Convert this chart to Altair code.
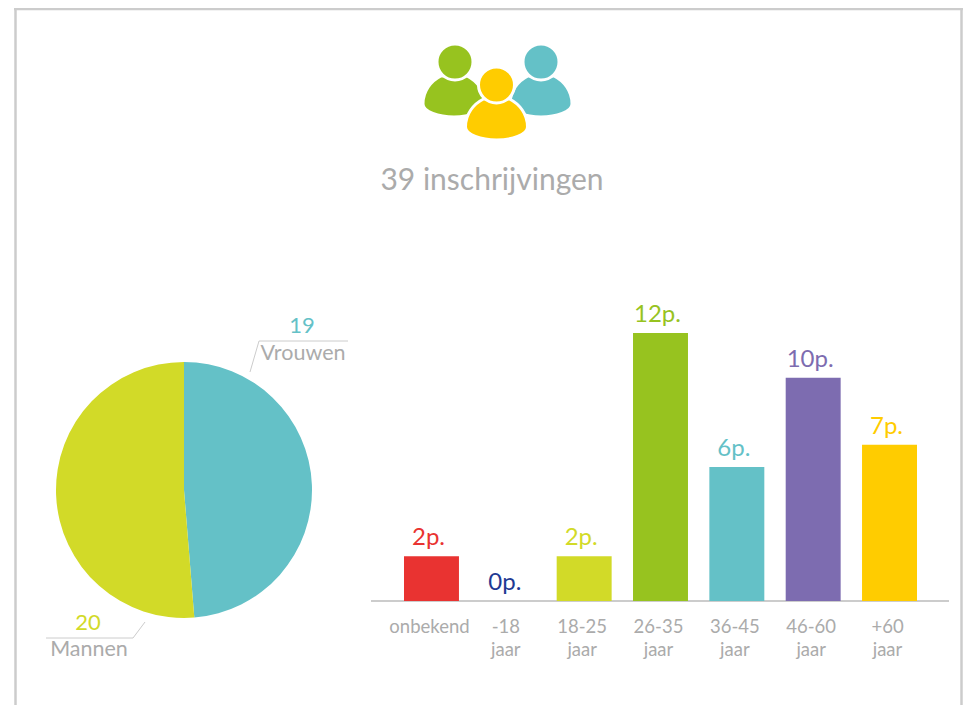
import altair as alt
import pandas as pd

OX, OY = 8, 8  # page margin

age_groups = ["onbekend", "-18", "18-25", "26-35", "36-45", "46-60", "+60"]
age_labels = ["onbekend", "-18\njaar", "18-25\njaar", "26-35\njaar", "36-45\njaar", "46-60\njaar", "+60\njaar"]
age_counts = [2, 0, 2, 12, 6, 10, 7]
age_colors = ["#E93331", "#1F3A93", "#D2DA28", "#97C31F", "#64C1C7", "#7D6CB0", "#FFCC00"]
gender_names = ["Vrouwen", "Mannen"]
gender_counts = [19, 20]
gender_colors = ["#64C1C7", "#D2DA28"]
title_text = "39 inschrijvingen"
GREY = "#ABABAB"
LINE = "#CCCCCC"
FONT = "Lato"

bars_df = pd.DataFrame({
    "age": age_groups, "count": age_counts, "color": age_colors, "tick": age_labels,
    "label": [f"{c}p." for c in age_counts],
})
pie_df = pd.DataFrame({"name": gender_names, "count": gender_counts, "color": gender_colors,
                       "order": [0, 1]})

x_scale = alt.Scale(domain=age_groups, range=[404 - OX, 917 - OX], paddingInner=0.28, paddingOuter=0)
y_scale = alt.Scale(domain=[0, 12], range=[601 - OY, 333 - OY])
X = alt.X("age:N", scale=x_scale, axis=None, sort=age_groups)
Y = alt.Y("count:Q", scale=y_scale, axis=None)
one = pd.DataFrame({"a": [0]})


def seg(x1, y1, x2, y2, color=LINE, w=1.0):
    return alt.Chart(one).mark_rule(color=color, strokeWidth=w).encode(
        x=alt.value(x1 - OX), x2=alt.value(x2 - OX), y=alt.value(y1 - OY), y2=alt.value(y2 - OY))


def txt(s, x, y, size, color=GREY, weight=400, align="center"):
    return alt.Chart(pd.DataFrame({"t": [s]})).mark_text(
        font=FONT, fontSize=size, color=color, fontWeight=weight, align=align, baseline="alphabetic"
    ).encode(text="t:N", x=alt.value(x - OX), y=alt.value(y - OY))


BODY = ("M-31,27 C-31,14 -23,4 -13,-1 L13,-1 C23,4 31,14 31,27 "
        "C31,35 15,40 0,40 C-15,40 -31,35 -31,27 Z")


def person(hx, hy, bx, by, color):
    body = alt.Chart(one).mark_point(shape=BODY, filled=True, size=4, fill=color, stroke="white",
                                     strokeWidth=3, opacity=1).encode(
        x=alt.value(bx - OX), y=alt.value(by - OY))
    head = alt.Chart(one).mark_point(shape="circle", filled=True, size=36 * 36, fill=color, stroke="white",
                                     strokeWidth=3, opacity=1).encode(
        x=alt.value(hx - OX), y=alt.value(hy - OY))
    return [body, head]


frame = [
    seg(14, 9, 963, 9, w=2.5),
    seg(15.5, 8, 15.5, 705, w=2.5),
    seg(961.5, 8, 961.5, 705, w=2.5),
]

icon = (person(455, 62, 454, 77, "#97C31F") + person(541, 62, 541, 77, "#64C1C7")
        + person(496.5, 85, 496.5, 100, "#FFCC00"))

pie = alt.Chart(pie_df).mark_arc(outerRadius=128, innerRadius=0).encode(
    theta=alt.Theta("count:Q", stack=True),
    order=alt.Order("order:Q"),
    color=alt.Color("color:N", scale=None, legend=None),
    x=alt.value(184 - OX), y=alt.value(490 - OY),
)

bars = alt.Chart(bars_df).mark_bar().encode(
    x=X, y=Y, color=alt.Color("color:N", scale=None, legend=None))
bar_labels = alt.Chart(bars_df).mark_text(
    font=FONT, fontSize=24, baseline="alphabetic", align="center", dx=-3, dy=-11).encode(
    x=X, y=Y, text="label:N", color=alt.Color("color:N", scale=None, legend=None))
ticks = alt.Chart(bars_df).mark_text(
    font=FONT, fontSize=18.5, baseline="alphabetic", align="center", lineBreak="\n", lineHeight=23,
    color=GREY, dx=-2, dy=32).encode(x=X, y=alt.datum(0, scale=y_scale), text="tick:N")

layers = frame + icon + [
    txt(title_text, 492, 190, 30),
    pie,
    seg(371, 601, 949, 601, w=2),
    bars, bar_labels, ticks,
    seg(46, 638, 133, 638), seg(133, 638, 145, 622),
    seg(348, 341, 259, 341), seg(259, 341, 250, 372),
    txt("20", 88, 630, 22, "#D2DA28"),
    txt("Mannen", 89, 656, 21.5),
    txt("19", 302, 333, 22, "#64C1C7"),
    txt("Vrouwen", 303, 360, 21.5),
]

chart = alt.layer(*layers).properties(
    width=955, height=697, padding=0, autosize=alt.AutoSizeParams(type="none"), background="white"
).configure_view(stroke=None)

chart.save("out.html", embed_options={"renderer": "svg", "actions": False})
